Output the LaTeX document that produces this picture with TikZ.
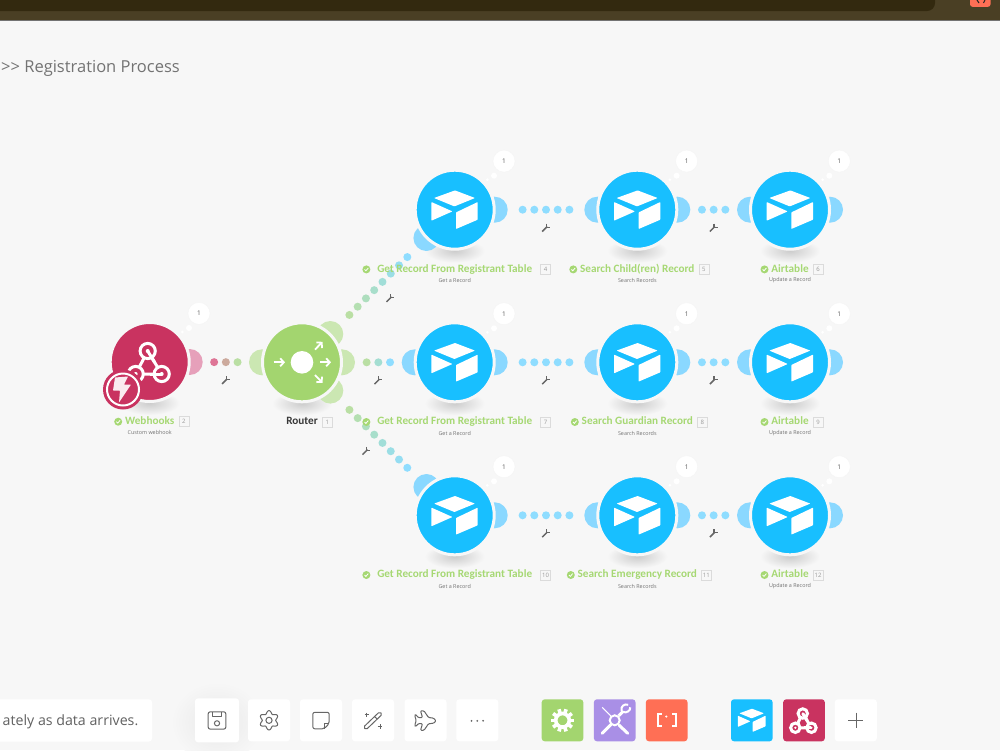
\documentclass[tikz,border=0pt]{standalone}
\usepackage{fontspec}
\setmainfont{Open Sans}
\newfontfamily\titlefont{Carlito}
\usetikzlibrary{calc}
\usetikzlibrary{positioning}
\usetikzlibrary{backgrounds}
\usetikzlibrary{arrows.meta}

\definecolor{pagebg}{HTML}{F7F7F7}
\definecolor{barcol}{HTML}{4A3F24}
\definecolor{bardark}{HTML}{33290F}
\definecolor{airblue}{HTML}{18BFFF}
\definecolor{airear}{HTML}{8AD8FF}
\definecolor{airdot}{HTML}{8FDDFF}
\definecolor{hookred}{HTML}{C93360}
\definecolor{hookear}{HTML}{E6A0BA}
\definecolor{hookdot}{HTML}{DE7596}
\definecolor{routegreen}{HTML}{A3D56F}
\definecolor{routeear}{HTML}{CBE7B2}
\definecolor{routedot}{HTML}{BADFA4}
\definecolor{okgreen}{HTML}{A6D873}
\definecolor{toolpurple}{HTML}{A98FE6}
\definecolor{toolorange}{HTML}{FF6F55}
\definecolor{icongray}{HTML}{666666}

\newcommand{\dotlink}[5]{%
  \foreach \i in {1,...,#3} {
    \pgfmathsetmacro{\dotoff}{(\i-(#3+1)/2)*11.7}
    \pgfmathsetmacro{\mixval}{100*(\i-1)/(#3-1)}
    \fill[#5!\mixval!#4] ($(#1)!0.5!(#2)!\dotoff pt!(#2)$) circle (4);
  }
}
\newcommand{\earat}[3]{%
  \begin{scope}[on background layer]
    \fill[#3] ($(#1)+(#2:40pt)$) circle (13);
  \end{scope}
}
\newcommand{\wrenchat}[1]{%
  \begin{scope}[shift={(#1)}]
    \draw[icongray,line width=1.5] (-3.8,3.8) -- (1.2,-1.2);
    \draw[icongray,line width=1.2] (0.4,-4) -- (0.4,-0.6) -- (4,-0.6);
  \end{scope}
}
\newcommand{\bubbles}[1]{%
  \begin{scope}[shift={(#1)}]
    \fill[white] (32.6,-30) circle (1.5);
    \fill[white] (39.3,-34) circle (3);
    \node[bubble] (#1-count) at (49.3,-48.6) {1};
  \end{scope}
}
\newcommand{\castshadow}[1]{%
  \begin{scope}[on background layer]
    \path[inner color=black!20,outer color=pagebg] ($(#1)+(0,41)$) ellipse (30 and 12);
  \end{scope}
}
\newcommand{\airicon}{%
  \fill[white,rounded corners=0.6] (-20.7,-11.7) -- (0.3,-19.3) -- (20.3,-11.7) -- (-0.3,-3.3) -- cycle;
  \fill[white,rounded corners=0.6] (-23.3,-7.7) -- (-2.3,1.7) -- (-23.3,11) -- cycle;
  \fill[white,rounded corners=0.6] (1.3,2.7) -- (23,-7.7) -- (23,10) -- (1.3,19.3) -- cycle;
}
\newcommand{\hookicon}{%
  \draw[white,line width=3] (-2,-11) -- (12,12) -- (-14,12) -- cycle;
  \draw[white,line width=3,fill=hookred] (-2,-11) circle (7.6);
  \draw[white,line width=3,fill=hookred] (12,12) circle (7.6);
  \draw[white,line width=3,fill=hookred] (-14,12) circle (7.6);
  \draw[white,line width=3] (-2,-11) -- (5,0.4);
  \draw[white,line width=3] (12,12) -- (0,12);
  \fill[white] (-2,-11) circle (2);
  \fill[white] (12,12) circle (2);
  \fill[white] (-14,12) circle (2);
}
\newcommand{\airmodule}[3]{%
  \node[module,fill=airblue] (#1) at (#2,#3) {};
  \castshadow{#1}
  \begin{scope}[shift={(#1)}]
    \airicon
  \end{scope}
  \bubbles{#1}
}
\newcommand{\modtitle}[6]{%
  \node[titletext,text=#6] (#1-title) at ($(#1)+(0,59.7)$) {#2};
  \node[numbox,right=#5+4pt of #1-title] (#1-num) {#3};
  \node[okdot,left=#5+2.5pt of #1-title] (#1-ok) {};
  \draw[white,line width=0.8] ($(#1-ok)+(-1.8,0)$) -- ($(#1-ok)+(-0.5,1.4)$) -- ($(#1-ok)+(1.9,-1.4)$);
  \node[subtext] (#1-sub) at ($(#1)+(0,70.8)$) {#4};
}

\begin{document}
\begin{tikzpicture}[
  x=1pt, y=-1pt,
  module/.style = {circle,minimum size=79pt,inner sep=0pt,draw=pagebg,line width=3pt},
  bubble/.style = {circle,fill=white,draw=black!4,line width=0.4pt,minimum size=22pt,inner sep=0pt,text=black!65,font=\fontsize{6.5}{7}\selectfont},
  titletext/.style = {inner sep=0pt,text height=7.6pt,text depth=2.4pt,font=\titlefont\fontsize{11.2}{12}\selectfont\bfseries},
  subtext/.style = {inner sep=0pt,text=black!55,font=\fontsize{5.4}{6}\selectfont},
  numbox/.style = {draw=black!14,line width=0.6pt,minimum size=10pt,inner sep=0pt,text=black!40,font=\fontsize{6}{7}\selectfont},
  okdot/.style = {circle,fill=okgreen,minimum size=8pt,inner sep=0pt},
  toolbtn/.style = {rounded corners=3pt,minimum width=42pt,minimum height=42pt,inner sep=0pt,fill=white},
  appbtn/.style = {rounded corners=3pt,minimum width=41.6pt,minimum height=42pt,inner sep=0pt},
  uiicon/.style = {draw=icongray,line width=1pt,line join=round}
  ]
  \useasboundingbox (0,0) rectangle (1000,750);

  % page and top bar
  \begin{scope}[on background layer]
    \fill[pagebg] (0,0) rectangle (1000,750);
    \path[inner color=black!9,outer color=pagebg] (217,722) ellipse (46 and 40);
  \end{scope}
  \fill[barcol] (0,0) rectangle (1000,20);
  \draw[black!55,line width=0.8] (0,20) -- (1000,20);
  \fill[bardark,rounded corners=8pt] (-20,-20) rectangle (935,11);
  \fill[toolorange,rounded corners=2.5pt] (970,-10) rectangle (990.5,6.8);
  \draw[black!85,line width=1] (977,0) -- (979,3) (985,0) -- (983.5,3);

  \node[anchor=east,inner sep=0pt,text=black!55,font=\fontsize{16.5}{20}\selectfont] (scenario) at (180,68) {{>}{>} Registration Process};

  % modules
  \node[module,fill=hookred] (webhooks) at (149.7,362) {};
  \castshadow{webhooks}
  \begin{scope}[shift={(webhooks)}]
    \hookicon
  \end{scope}
  \bubbles{webhooks}
  \node[module,fill=routegreen] (router) at (302,362.3) {};
  \castshadow{router}

  \airmodule{getrecA}{454.7}{209.7}
  \airmodule{searchA}{637.3}{209.7}
  \airmodule{airA}{790}{209.7}
  \airmodule{getrecB}{454.7}{362.3}
  \airmodule{searchB}{637.3}{362.3}
  \airmodule{airB}{790}{362.3}
  \airmodule{getrecC}{454.7}{515.3}
  \airmodule{searchC}{637.3}{515.3}
  \airmodule{airC}{790}{515.3}

  % trigger badge
  \node[circle,fill=hookred,minimum size=40pt,inner sep=0pt] (badge) at (123,389.5) {};
  \draw[white,line width=2pt] (badge) circle (16);
  \begin{scope}[shift={(badge)}]
    \fill[white!90!hookred,rounded corners=0.5] (-8,-12) -- (5,-13) -- (1,-5) -- (8,-5) -- (-4,13) -- (-3,1) -- (-10,1) -- cycle;
  \end{scope}

  % router icon
  \begin{scope}[shift={(router)},line width=1.8,white,-{Straight Barb[length=3.6pt,width=8pt]}]
    \fill[white] (0,0) circle (11.3);
    \draw (-28.5,0) -- (-17,0);
    \draw (18,0) -- (29,0);
    \draw (13,-12.7) -- (20.5,-20.5);
    \draw (13,12.7) -- (20.5,20.5);
  \end{scope}

  % ears
  \earat{webhooks}{0}{hookear}
  \earat{router}{180}{routeear}
  \earat{router}{0}{routeear}
  \earat{router}{45}{routeear}
  \earat{router}{-45}{routeear}
  \earat{getrecA}{225}{airear}
  \earat{getrecB}{180}{airear}
  \earat{getrecC}{135}{airear}
  \foreach \row in {A,B,C} {
    \earat{getrec\row}{0}{airear}
    \earat{search\row}{180}{airear}
    \earat{search\row}{0}{airear}
    \earat{air\row}{180}{airear}
    \earat{air\row}{0}{airear}
  }

  % connectors
  \dotlink{webhooks}{router}{3}{hookdot}{routedot}
  \dotlink{router}{getrecA}{8}{routedot}{airdot}
  \dotlink{router}{getrecB}{3}{routedot}{airdot}
  \dotlink{router}{getrecC}{8}{routedot}{airdot}
  \foreach \row in {A,B,C} {
    \dotlink{getrec\row}{search\row}{5}{airdot}{airdot}
    \dotlink{search\row}{air\row}{3}{airdot}{airdot}
    \wrenchat{$(getrec\row)!0.5!(search\row)+(0,18)$}
    \wrenchat{$(search\row)!0.5!(air\row)+(0,18)$}
  }
  \wrenchat{$(webhooks)!0.5!(router)+(0,18)$}
  \wrenchat{$(router)!0.5!(getrecB)+(0,18)$}
  \wrenchat{$(router)!0.5!(getrecA)+(12,12)$}
  \wrenchat{$(router)!0.5!(getrecC)+(-12,12)$}

  % labels
  \modtitle{webhooks}{Webhooks}{2}{Custom webhook}{0pt}{okgreen}
  \node[titletext,text=black!78] (router-title) at ($(router)+(0,59.7)$) {Router};
  \node[numbox,right=4pt of router-title] (router-num) {1};
  \modtitle{getrecA}{Get Record From Registrant Table}{4}{Get a Record}{4pt}{okgreen}
  \modtitle{searchA}{Search Child(ren) Record}{5}{Search Records}{0pt}{okgreen}
  \modtitle{airA}{Airtable}{6}{Update a Record}{0pt}{okgreen}
  \modtitle{getrecB}{Get Record From Registrant Table}{7}{Get a Record}{4pt}{okgreen}
  \modtitle{searchB}{Search Guardian Record}{8}{Search Records}{0pt}{okgreen}
  \modtitle{airB}{Airtable}{9}{Update a Record}{0pt}{okgreen}
  \modtitle{getrecC}{Get Record From Registrant Table}{10}{Get a Record}{4pt}{okgreen}
  \modtitle{searchC}{Search Emergency Record}{11}{Search Records}{0pt}{okgreen}
  \modtitle{airC}{Airtable}{12}{Update a Record}{0pt}{okgreen}

  % toolbar
  \fill[white,rounded corners=3pt] (-10,699.3) rectangle (152,741.5);
  \node[anchor=east,inner sep=0pt,text=black!62,font=\fontsize{14.2}{17}\selectfont] (hint) at (138.5,722) {ately as data arrives.};

  \node[toolbtn,minimum width=44pt,minimum height=44pt] (savebtn) at (217,720.3) {};
  \node[toolbtn] (gearbtn) at (269,720.3) {};
  \node[toolbtn] (notebtn) at (321,720.3) {};
  \node[toolbtn] (wandbtn) at (373,720.3) {};
  \node[toolbtn] (planebtn) at (425.5,720.3) {};
  \node[toolbtn] (morebtn) at (477.3,720.3) {};

  \begin{scope}[shift={(savebtn)},uiicon]
    \draw[rounded corners=2] (-8.8,-8.5) rectangle (8.8,8.8);
    \draw (-5,-8.5) -- (-5,-4) -- (4.5,-4) -- (4.5,-8.5);
    \draw (0,3) circle (2.6);
  \end{scope}
  \begin{scope}[shift={(gearbtn)},uiicon]
    \draw plot[domain=0:360,samples=73,smooth] ({\x+30}:{8.2+1.5*cos(6*\x)}) -- cycle;
    \draw (0,0) circle (3.1);
  \end{scope}
  \begin{scope}[shift={(notebtn)},uiicon]
    \draw[rounded corners=2] (-8.2,-8) -- (8.2,-8) -- (8.2,3.2) -- (3.2,8.5) -- (-8.2,8.5) -- cycle;
    \draw (8.2,3.2) -- (3.2,3.2) -- (3.2,8.5);
  \end{scope}
  \begin{scope}[shift={(wandbtn)},uiicon]
    \draw[rounded corners=1.5] (-9.5,6.8) -- (6.6,-8.6) -- (9.2,-6) -- (-6.9,9.4) -- cycle;
    \draw (1.5,-3.8) -- (4.2,-1.2);
    \draw[line width=0.9] (-6.3,-7.6) -- (-6.3,-3.6) (-8.3,-5.6) -- (-4.3,-5.6);
    \draw[line width=0.9] (7,3.7) -- (7,8.5) (4.6,6.1) -- (9.4,6.1);
  \end{scope}
  \begin{scope}[shift={(planebtn)},uiicon]
    \draw[rounded corners=1] (10.5,0.5) -- (8,-2.2) -- (3,-2.8) -- (-1.5,-9.5) -- (-5,-9.5) -- (-3,-2.8) -- (-7,-2.6) -- (-10,-6) -- (-10.8,-4.8) -- (-9.3,0.2) -- (-10.8,5) -- (-10,6.4) -- (-7,3.2) -- (-3,3.4) -- (-5,10) -- (-1.5,10) -- (3,3.4) -- (8,3) -- cycle;
  \end{scope}
  \begin{scope}[shift={(morebtn)}]
    \fill[icongray] (-5.8,0.5) circle (1);
    \fill[icongray] (0,0.5) circle (1);
    \fill[icongray] (5.8,0.5) circle (1);
  \end{scope}

  \node[appbtn,fill=routegreen] (toolsbtn) at (562.5,720.3) {};
  \node[appbtn,fill=toolpurple] (fixbtn) at (614.7,720.3) {};
  \node[appbtn,fill=toolorange] (arraybtn) at (666.7,720.3) {};
  \node[appbtn,fill=airblue] (airbtn) at (751.8,720.3) {};
  \node[appbtn,fill=hookred] (hookbtn) at (804,720.3) {};
  \node[toolbtn] (addbtn) at (855.8,720.3) {};

  \begin{scope}[shift={(toolsbtn)}]
    \foreach \a in {0,36,...,324}
      \draw[white,line width=3.6] (\a:7) -- (\a:11.6);
    \draw[white,line width=3.6] (0,0) circle (6.8);
  \end{scope}
  \begin{scope}[shift={(fixbtn)},white]
    \draw[line width=2] (0,0) circle (5);
    \draw[line width=1.2] (-12.5,-13) -- (-4,-4.5);
    \draw[line width=3,line cap=round] (4.5,5) -- (13,13);
    \draw[line width=3,line cap=round] (-12.5,13) -- (-4,4.5);
    \draw[line width=3] (4,-4.5) -- (8.5,-9);
    \draw[line width=2] (7,-9.5) .. controls (5.5,-14) and (10,-17) .. (13.5,-15.5);
    \draw[line width=2] (8,-8.5) .. controls (12,-6.5) and (16,-10) .. (15.5,-13);
  \end{scope}
  \begin{scope}[shift={(arraybtn)},white,line width=1.7]
    \draw (-5.2,-6.5) -- (-8.8,-6.5) -- (-8.8,5.5) -- (-5.2,5.5);
    \draw (5.6,-6.5) -- (9.2,-6.5) -- (9.2,5.5) -- (5.6,5.5);
    \fill (-0.4,-3.8) circle (1.2);
  \end{scope}
  \begin{scope}[shift={(airbtn)},scale=0.6]
    \airicon
  \end{scope}
  \begin{scope}[shift={(hookbtn)},scale=0.62]
    \hookicon
  \end{scope}
  \draw[icongray,line width=1] ($(addbtn)+(-7.6,0.3)$) -- ($(addbtn)+(7.6,0.3)$);
  \draw[icongray,line width=1] ($(addbtn)+(0.4,-7.6)$) -- ($(addbtn)+(0.4,8)$);
\end{tikzpicture}
\end{document}
